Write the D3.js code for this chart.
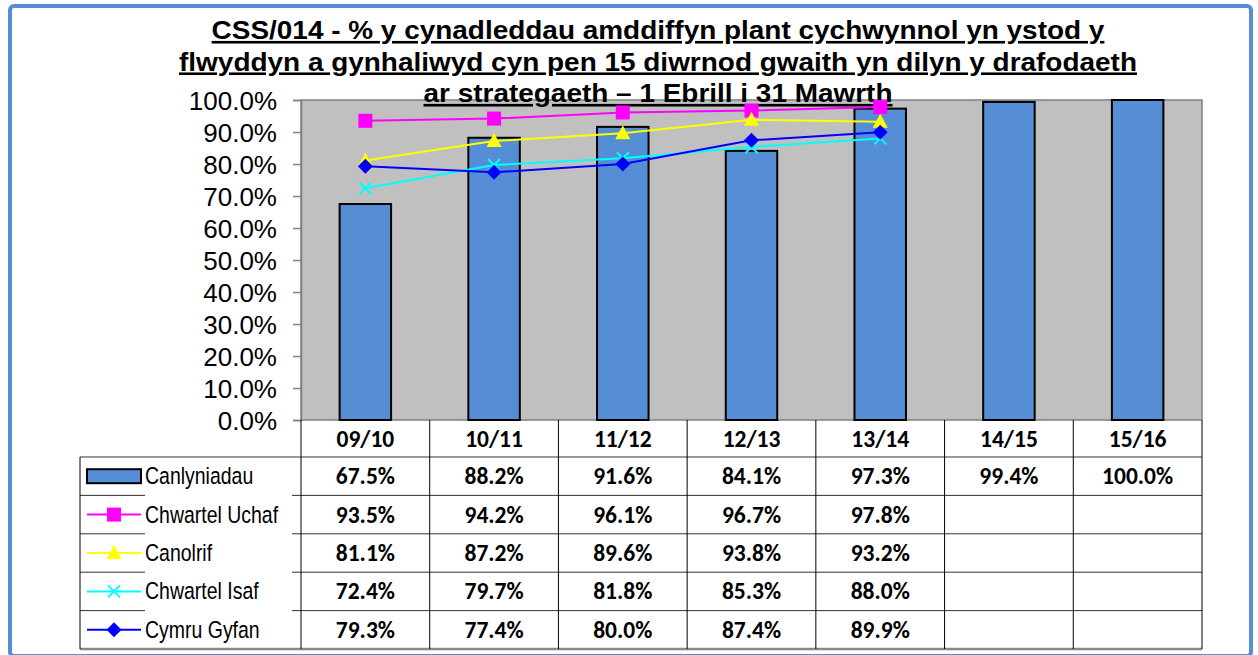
<!DOCTYPE html>
<html>
<head>
<meta charset="utf-8">
<script src="https://cdn.jsdelivr.net/npm/d3@7"></script>
<style>
	body { margin: 0; background: #fff; }
</style>
</head>
<body>
<div id="chartDiv"></div>
<script>
;(function() {

	var width = 1258;
	var height = 655;

	// data
	var years = ["09/10", "10/11", "11/12", "12/13", "13/14", "14/15", "15/16"];
	var canlyniadau = [67.5, 88.2, 91.6, 84.1, 97.3, 99.4, 100.0];
	var chwartelUchaf = [93.5, 94.2, 96.1, 96.7, 97.8];
	var canolrif = [81.1, 87.2, 89.6, 93.8, 93.2];
	var chwartelIsaf = [72.4, 79.7, 81.8, 85.3, 88.0];
	var cymruGyfan = [79.3, 77.4, 80.0, 87.4, 89.9];
	var yTicks = [0, 10, 20, 30, 40, 50, 60, 70, 80, 90, 100];
	var titleLines = [
		"CSS/014 - % y cynadleddau amddiffyn plant cychwynnol yn ystod y",
		"flwyddyn a gynhaliwyd cyn pen 15 diwrnod gwaith yn dilyn y drafodaeth",
		"ar strategaeth \u2013 1 Ebrill i 31 Mawrth"
	];

	var series = [
		{ name: "Chwartel Uchaf", values: chwartelUchaf, color: "#ff00ff", marker: "square" },
		{ name: "Canolrif", values: canolrif, color: "#ffff00", marker: "triangle" },
		{ name: "Chwartel Isaf", values: chwartelIsaf, color: "#00ffff", marker: "x" },
		{ name: "Cymru Gyfan", values: cymruGyfan, color: "#0000ff", marker: "diamond" }
	];

	var plot = { left: 301, right: 1202, top: 100, bottom: 420 };
	var table = { left: 80, headBottom: 457, bottom: 649 };
	var rowH = (table.bottom - table.headBottom) / 5;
	var barColor = "#558ed5";
	var numFont = "Carlito, Lato, 'Open Sans', sans-serif";
	var arial = "'Liberation Sans', Arial, sans-serif";

	var svg = d3.select("#chartDiv").append("svg")
		.attr("width", width)
		.attr("height", height);

	// outer frame
	svg.append("rect")
		.attr("x", 10).attr("y", 6)
		.attr("width", 1241).attr("height", 650)
		.attr("rx", 4)
		.attr("fill", "#fff")
		.attr("stroke", "#558ed5")
		.attr("stroke-width", 4);

	var xScale = d3.scaleBand().domain(years).range([plot.left, plot.right])
		.paddingInner(0.6).paddingOuter(0.3);
	var colScale = d3.scaleBand().domain(years).range([plot.left, plot.right]);
	var yScale = d3.scaleLinear().domain([0, 100]).range([plot.bottom, plot.top]);

	// plot area
	svg.append("rect")
		.attr("x", plot.left).attr("y", plot.top)
		.attr("width", plot.right - plot.left).attr("height", plot.bottom - plot.top)
		.attr("fill", "#c0c0c0")
		.attr("stroke", "#808080")
		.attr("stroke-width", 1.5);

	// y axis
	var yAxis = d3.axisLeft(yScale)
		.tickValues(yTicks)
		.tickSize(8)
		.tickFormat(function(d) { return d.toFixed(1) + "%"; });

	var yAxisG = svg.append("g")
		.attr("transform", "translate(" + plot.left + ",0)")
		.call(yAxis);
	yAxisG.select(".domain").attr("stroke", "#808080").attr("stroke-width", 1.5);
	yAxisG.selectAll(".tick line").attr("stroke", "#808080").attr("stroke-width", 1.5);
	yAxisG.selectAll(".tick text")
		.attr("x", -24)
		.attr("dy", "0.36em")
		.attr("fill", "#000")
		.style("font-family", arial)
		.style("font-size", "26px");

	// title (sits behind the series, over the plot top)
	var title = svg.append("g");
	titleLines.forEach(function(t, i) {
		title.append("text")
			.attr("transform", "translate(658," + (39 + i * 31.5) + ") scale(1.075,1)")
			.attr("text-anchor", "middle")
			.style("font-family", arial)
			.style("font-weight", "bold")
			.style("font-size", "26px")
			.style("text-decoration", "underline")
			.text(t);
	});

	// bars
	svg.selectAll(".bar").data(canlyniadau)
		.enter().append("rect")
		.attr("class", "bar")
		.attr("x", function(d, i) { return xScale(years[i]); })
		.attr("y", function(d) { return yScale(d); })
		.attr("width", xScale.bandwidth())
		.attr("height", function(d) { return yScale(0) - yScale(d); })
		.attr("fill", barColor)
		.attr("stroke", "#000")
		.attr("stroke-width", 2);

	function drawMarker(g, type, color) {
		if (type === "square") {
			g.append("rect").attr("x", -7).attr("y", -7).attr("width", 14).attr("height", 14).attr("fill", color);
		} else if (type === "triangle") {
			g.append("path").attr("d", "M0,-8L7.5,6L-7.5,6Z").attr("fill", color);
		} else if (type === "x") {
			g.append("path").attr("d", "M-6,-6L6,6M-6,6L6,-6").attr("stroke", color).attr("stroke-width", 2).attr("fill", "none");
		} else if (type === "diamond") {
			g.append("path").attr("d", "M0,-7.5L7.5,0L0,7.5L-7.5,0Z").attr("fill", color);
		}
	}

	// lines
	var line = d3.line()
		.x(function(d, i) { return xScale(years[i]) + xScale.bandwidth() / 2; })
		.y(function(d) { return yScale(d); });

	series.forEach(function(s) {
		svg.append("path")
			.datum(s.values)
			.attr("d", line)
			.attr("fill", "none")
			.attr("stroke", s.color)
			.attr("stroke-width", 2);
		s.values.forEach(function(v, i) {
			var g = svg.append("g")
				.attr("transform", "translate(" + (xScale(years[i]) + xScale.bandwidth() / 2) + "," + yScale(v) + ")");
			drawMarker(g, s.marker, s.color);
		});
	});

	// data table
	var rows = [{ name: "Canlyniadau", values: canlyniadau, marker: "bar" }].concat(series);
	var tbl = svg.append("g");

	// horizontal row lines
	for (var r = 0; r <= 5; r++) {
		var yy = table.headBottom + r * rowH;
		tbl.append("line")
			.attr("x1", table.left).attr("x2", plot.right)
			.attr("y1", yy).attr("y2", yy)
			.attr("stroke", r === 5 ? "#888" : "#333")
			.attr("stroke-width", r === 5 ? 2.5 : 1);
	}
	// vertical lines
	tbl.append("line")
		.attr("x1", table.left).attr("x2", table.left)
		.attr("y1", table.headBottom).attr("y2", table.bottom)
		.attr("stroke", "#000");
	years.concat(["end"]).forEach(function(y, i) {
		var xx = i < years.length ? colScale(y) : plot.right;
		tbl.append("line")
			.attr("x1", xx).attr("x2", xx)
			.attr("y1", plot.bottom).attr("y2", table.bottom)
			.attr("stroke", "#000");
	});

	// header labels
	tbl.selectAll(".head").data(years)
		.enter().append("text")
		.attr("x", function(d) { return colScale(d) + colScale.bandwidth() / 2; })
		.attr("y", (plot.bottom + table.headBottom) / 2 + 8)
		.attr("text-anchor", "middle")
		.style("font-family", numFont)
		.style("font-weight", "bold")
		.style("font-size", "23.5px")
		.text(function(d) { return d; });

	// white box behind legend labels
	tbl.append("rect")
		.attr("x", 145).attr("y", table.headBottom + 2)
		.attr("width", 147).attr("height", table.bottom - table.headBottom - 4)
		.attr("fill", "#fff");

	rows.forEach(function(row, r) {
		var cy = table.headBottom + r * rowH + rowH / 2;
		// legend key
		if (row.marker === "bar") {
			tbl.append("rect")
				.attr("x", 87).attr("y", cy - 7)
				.attr("width", 54).attr("height", 14)
				.attr("fill", barColor)
				.attr("stroke", "#000")
				.attr("stroke-width", 2);
		} else {
			tbl.append("line")
				.attr("x1", 87).attr("x2", 141)
				.attr("y1", cy).attr("y2", cy)
				.attr("stroke", row.color)
				.attr("stroke-width", 2);
			drawMarker(tbl.append("g").attr("transform", "translate(114," + cy + ")"), row.marker, row.color);
		}
		// condensed label, like Arial Narrow
		tbl.append("text")
			.attr("transform", "translate(145," + (cy + 8) + ") scale(0.795,1)")
			.style("font-family", arial)
			.style("font-size", "24.5px")
			.text(row.name);

		tbl.selectAll(".cell" + r).data(row.values)
			.enter().append("text")
			.attr("x", function(d, i) { return colScale(years[i]) + colScale.bandwidth() / 2; })
			.attr("y", cy + 8)
			.attr("text-anchor", "middle")
			.style("font-family", numFont)
			.style("font-weight", "bold")
			.style("font-size", "23.5px")
			.text(function(d) { return d.toFixed(1) + "%"; });
	});

})();
</script>
</body>
</html>
